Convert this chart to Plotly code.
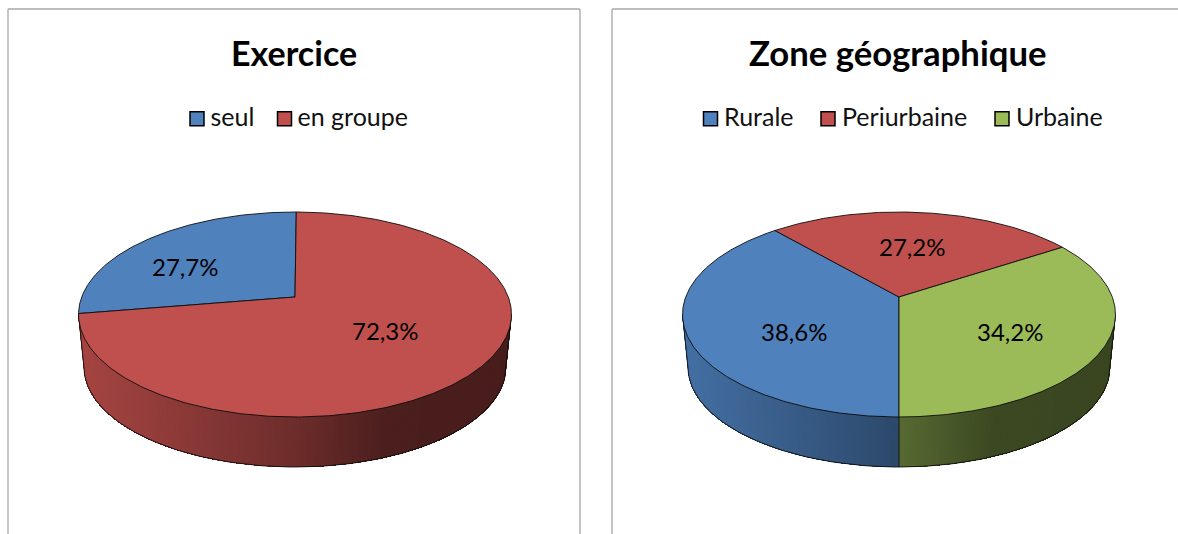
import math
import plotly.graph_objects as go

# --- data -------------------------------------------------------------
exercice_labels = ["seul", "en groupe"]
exercice_values = [27.7, 72.3]
exercice_text = ["27,7%", "72,3%"]

zone_labels = ["Rurale", "Periurbaine", "Urbaine"]
zone_values = [38.6, 27.2, 34.2]
zone_text = ["38,6%", "27,2%", "34,2%"]

# --- style ------------------------------------------------------------
BLUE, RED, GREEN = (79, 129, 189), (192, 80, 77), (155, 187, 89)
exercice_colors = [BLUE, RED]
zone_colors = [BLUE, RED, GREEN]
FONT = "Lato, Carlito, Calibri, sans-serif"
W, H = 1178, 534
K, A, B = 0.1707, 213.3, 99.5     # perspective of the pie's top face
DEPTH_SCALE, APEX_DROP = 0.975, 53
SWATCH_FONT = 25
EDGE = "#0d0d0d"


def rgb(c):
    return f"rgb({int(c[0])},{int(c[1])},{int(c[2])})"


def project(theta_deg, cx, cy, a=A, b=B):
    t = math.radians(theta_deg)
    x, y = math.sin(t), math.cos(t)
    d = 1 + K * y
    return cx + a * x / d, cy - b * y / d


def lower(theta_deg, cx, cy):
    return project(theta_deg, cx, cy + APEX_DROP, A * DEPTH_SCALE, B * DEPTH_SCALE)


def shade(frac):
    stops = [(0.0, 0.87), (0.5, 0.57), (0.72, 0.39), (1.0, 0.38)]
    for (x0, v0), (x1, v1) in zip(stops, stops[1:]):
        if frac <= x1:
            return v0 + (v1 - v0) * (max(frac, x0) - x0) / (x1 - x0)
    return stops[-1][1]


fig = go.Figure()


def poly(pts, fill, line, width):
    fig.add_trace(go.Scatter(
        x=[q[0] for q in pts], y=[q[1] for q in pts], mode="lines", fill="toself",
        fillcolor=fill, line=dict(color=line, width=width),
        hoverinfo="skip", showlegend=False))


def draw_pie(values, colors, start, cx, cy):
    spans = []
    cur = start
    total = sum(values)
    for v, c in zip(values, colors):
        sweep = 360 * v / total
        spans.append((cur, cur + sweep, c))
        cur += sweep

    front0 = math.degrees(math.acos(-K))
    front1 = 360 - front0
    half = A / math.sqrt(1 - K * K)
    left = cx - half
    width = 2 * half

    # front wall pieces of each slice
    cuts = {front0, front1}
    for a0, a1, _ in spans:
        for off in (-360, 0, 360):
            if front0 < a0 + off < front1:
                cuts.add(a0 + off)
    cuts = sorted(cuts)

    def slice_color(th):
        for a0, a1, c in spans:
            for off in (-360, 0, 360):
                if a0 <= th + off < a1:
                    return c
        return spans[-1][2]

    # side wall: each band reaches to the piece's far end, so that no seams show
    for p0, p1 in zip(cuts, cuts[1:]):
        c = slice_color((p0 + p1) / 2)
        n = max(2, int((p1 - p0) * 2.5))
        for i in range(n):
            mid = p0 + (p1 - p0) * (i + 0.5) / n
            mx, _ = project(mid, cx, cy)
            s = shade((mx - left) / width)
            col = rgb(tuple(v * s for v in c))
            m = 8 * (n - i) + 2
            arc = [p0 + (p1 - p0) * (i + (n - i) * j / m) / n for j in range(m + 1)]
            pts = [project(t, cx, cy) for t in arc] + [lower(t, cx, cy) for t in reversed(arc)]
            pts.append(pts[0])
            poly(pts, col, "rgba(0,0,0,0)", 0)

    # dividing lines on the wall
    for th in cuts[1:-1]:
        p0, p1 = project(th, cx, cy), lower(th, cx, cy)
        fig.add_trace(go.Scatter(
            x=[p0[0], p1[0]], y=[p0[1], p1[1]], mode="lines",
            line=dict(color=EDGE, width=0.9),
            hoverinfo="skip", showlegend=False))

    # wall outline
    arc = [lower(front0 + (front1 - front0) * i / 120, cx, cy) for i in range(121)]
    outline = [project(front0, cx, cy)] + arc + [project(front1, cx, cy)]
    fig.add_trace(go.Scatter(
        x=[q[0] for q in outline], y=[q[1] for q in outline], mode="lines",
        line=dict(color=EDGE, width=0.9), hoverinfo="skip", showlegend=False))

    # top face
    for a0, a1, c in spans:
        steps = max(2, int((a1 - a0) * 1.5))
        pts = [(cx, cy)] + [project(a0 + (a1 - a0) * i / steps, cx, cy)
                            for i in range(steps + 1)] + [(cx, cy)]
        poly(pts, rgb(c), EDGE, 0.9)


def add_text(x, y, text, size=24, bold=False):
    fig.add_annotation(
        x=x, y=y, text=f"<b>{text}</b>" if bold else text, showarrow=False,
        xref="x", yref="y", xanchor="center", yanchor="middle",
        font=dict(family=FONT, size=size, color="#000000"))


def add_swatch(x, y, text_x, label, color):
    fig.add_trace(go.Scatter(
        x=[x], y=[y], mode="markers",
        marker=dict(symbol="square", size=14, color=rgb(color),
                    line=dict(color="#000000", width=1.5)),
        hoverinfo="skip", showlegend=False))
    fig.add_trace(go.Scatter(
        x=[text_x], y=[y + 1.3], mode="text", text=[label], textposition="middle right",
        textfont=dict(family=FONT, size=SWATCH_FONT, color="#111111"),
        hoverinfo="skip", showlegend=False))


# left chart
draw_pie(exercice_values, exercice_colors, 360 - 360 * exercice_values[0] / 100 + 0.4, 295, 297)
# right chart
draw_pie(zone_values, zone_colors, 180, 899, 297)

for (x, y), t in zip([(185, 266), (385, 330)], exercice_text):
    add_text(x, y, t)
for (x, y), t in zip([(794, 331), (912, 246), (1010, 331)], zone_text):
    add_text(x, y, t)

add_text(294, 52, "Exercice", size=34, bold=True)
add_text(898, 52, "Zone géographique", size=34.7, bold=True)

for x, tx, lab, col in zip([197, 284.5], [210.5, 297.5], exercice_labels, exercice_colors):
    add_swatch(x, 118.7, tx, lab, col)
for x, tx, lab, col in zip([710.5, 828, 1002], [724, 842, 1016], zone_labels, zone_colors):
    add_swatch(x, 118.7, tx, lab, col)

frame = dict(color="#a8a8a8", width=1.3)
shapes = [
    dict(type="line", x0=8, y0=9, x1=8, y1=H, line=frame),
    dict(type="line", x0=8, y0=9, x1=580, y1=9, line=frame),
    dict(type="line", x0=580, y0=9, x1=580, y1=H, line=frame),
    dict(type="line", x0=612, y0=9, x1=612, y1=H, line=frame),
    dict(type="line", x0=612, y0=9, x1=W, y1=9, line=frame),
]

fig.update_layout(
    width=W, height=H, margin=dict(l=0, r=0, t=0, b=0),
    paper_bgcolor="white", plot_bgcolor="white", shapes=shapes, showlegend=False,
    xaxis=dict(range=[0, W], visible=False, fixedrange=True),
    yaxis=dict(range=[H, 0], visible=False, fixedrange=True),
)
fig.write_html("out.html", config={"displayModeBar": False},
               default_width=f"{W}px", default_height=f"{H}px",
               post_script="document.body.style.margin='0';")
